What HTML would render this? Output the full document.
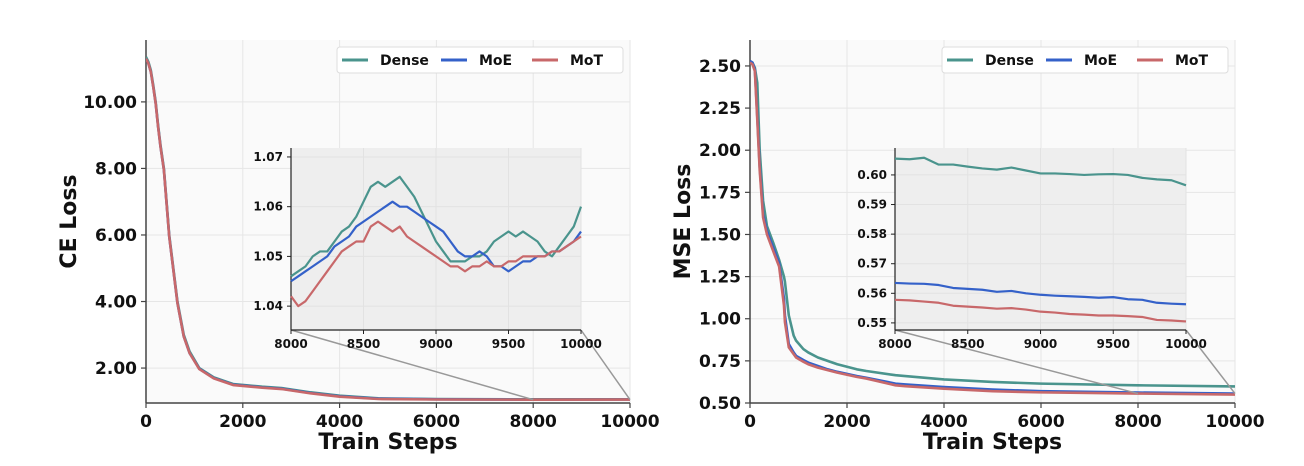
<!DOCTYPE html>
<html><head><meta charset="utf-8"><style>
body{margin:0;background:#fff}
svg{display:block}
text{font-family:"DejaVu Sans","Liberation Sans",sans-serif;font-weight:bold;fill:#111}
</style></head><body>
<svg id="c" width="1304" height="466" viewBox="0 0 1304 466"></svg>
<script>
const mainSteps=[0,50,100,150,200,250,300,370,480,650,780,900,1100,1400,1800,2400,2800,3400,4000,4800,6000,8000,10000];
const ceDense=[11.35,11.2,10.95,10.5,10.0,9.3,8.7,8.0,6.0,4.0,3.0,2.5,2.0,1.72,1.52,1.44,1.40,1.27,1.17,1.09,1.07,1.06,1.06];
const ceMoE=[11.3,11.15,10.9,10.45,9.95,9.25,8.65,7.95,5.95,3.95,2.95,2.45,1.98,1.70,1.50,1.42,1.38,1.25,1.15,1.08,1.06,1.05,1.055];
const ceMoT=[11.3,11.15,10.9,10.45,9.95,9.25,8.65,7.95,5.95,3.95,2.95,2.45,1.97,1.69,1.49,1.41,1.37,1.24,1.14,1.07,1.055,1.05,1.054];
const mseSteps=[0,50,100,150,200,270,350,480,600,700,720,800,900,950,1100,1200,1400,1600,1800,2200,2400,3000,3200,4000,5000,6000,8000,10000];
const mseDense=[2.52,2.52,2.49,2.40,2.00,1.70,1.55,1.45,1.35,1.25,1.22,1.02,0.90,0.87,0.82,0.80,0.77,0.75,0.73,0.70,0.69,0.665,0.66,0.64,0.625,0.615,0.605,0.598];
const mseMoE=[2.53,2.52,2.48,2.20,1.90,1.62,1.52,1.42,1.33,1.12,1.02,0.85,0.80,0.78,0.755,0.74,0.72,0.70,0.685,0.66,0.65,0.615,0.61,0.595,0.58,0.57,0.562,0.556];
const mseMoT=[2.52,2.51,2.47,2.18,1.88,1.60,1.50,1.40,1.31,1.08,0.98,0.83,0.79,0.77,0.745,0.73,0.71,0.695,0.68,0.655,0.645,0.605,0.60,0.585,0.57,0.563,0.556,0.550];
const ceInsetDense=[1.046,1.047,1.048,1.050,1.051,1.051,1.053,1.055,1.056,1.058,1.061,1.064,1.065,1.064,1.065,1.066,1.064,1.062,1.059,1.056,1.053,1.051,1.049,1.049,1.049,1.050,1.050,1.051,1.053,1.054,1.055,1.054,1.055,1.054,1.053,1.051,1.050,1.052,1.054,1.056,1.060];
const ceInsetMoE=[1.045,1.046,1.047,1.048,1.049,1.050,1.052,1.053,1.054,1.056,1.057,1.058,1.059,1.060,1.061,1.060,1.060,1.059,1.058,1.057,1.056,1.055,1.053,1.051,1.050,1.050,1.051,1.050,1.048,1.048,1.047,1.048,1.049,1.049,1.050,1.050,1.051,1.051,1.052,1.053,1.055];
const ceInsetMoT=[1.042,1.040,1.041,1.043,1.045,1.047,1.049,1.051,1.052,1.053,1.053,1.056,1.057,1.056,1.055,1.056,1.054,1.053,1.052,1.051,1.050,1.049,1.048,1.048,1.047,1.048,1.048,1.049,1.048,1.048,1.049,1.049,1.050,1.050,1.050,1.050,1.051,1.051,1.052,1.053,1.054];
const mseInsetDense=[.6055,.6053,.6058,.6035,.6035,.6028,.6022,.6018,.6025,.6015,.6005,.6005,.6003,.6000,.6002,.6003,.6000,.5990,.5985,.5982,.5965];
const mseInsetMoE=[.5635,.5633,.5632,.5628,.5618,.5615,.5612,.5605,.5608,.5600,.5595,.5592,.5590,.5588,.5585,.5587,.5580,.5578,.5568,.5565,.5563];
const mseInsetMoT=[.5578,.5576,.5572,.5568,.5558,.5555,.5552,.5548,.5550,.5545,.5538,.5535,.5530,.5528,.5525,.5525,.5523,.5520,.5510,.5508,.5505];
const xTicks=[0,2000,4000,6000,8000,10000];
const insetXTicks=[8000,8500,9000,9500,10000];
const ceYTicks=[2,4,6,8,10];
const mseYTicks=[0.5,0.75,1.0,1.25,1.5,1.75,2.0,2.25,2.5];
const ceInsetYTicks=[1.04,1.05,1.06,1.07];
const mseInsetYTicks=[0.55,0.56,0.57,0.58,0.59,0.60];
const colors={Dense:"#4a948d",MoE:"#3461c9",MoT:"#c8686a"};
const NS="http://www.w3.org/2000/svg";
const svg=document.getElementById('c');
function el(tag,attrs,parent){const e=document.createElementNS(NS,tag);for(const k in attrs)e.setAttribute(k,attrs[k]);(parent||svg).appendChild(e);return e;}
function scale(d0,d1,r0,r1){return v=>r0+(v-d0)/(d1-d0)*(r1-r0);}
function drawPanel(o){
  const g=el('g',{});
  
  
  const X=scale(0,10000,o.x0,o.x1),Y=scale(o.yMin,o.yMax,o.yB,o.yT);
  const bg=el('rect',{x:o.x0,y:o.yT,width:o.x1-o.x0,height:o.yB-o.yT,fill:'#fafafa'},g);
  
  xTicks.forEach(t=>{el('line',{x1:X(t),x2:X(t),y1:o.yT,y2:o.yB,stroke:'#e6e6e6','stroke-width':1},g);
    el('line',{x1:X(t),x2:X(t),y1:o.yB,y2:o.yB+5,stroke:'#444','stroke-width':1.2},g);
    const tx=el('text',{x:X(t),y:o.yB+24,'text-anchor':'middle','font-size':17},g);tx.textContent=t;
    });
  o.yTicks.forEach(t=>{el('line',{x1:o.x0,x2:o.x1,y1:Y(t),y2:Y(t),stroke:'#e6e6e6','stroke-width':1},g);
    el('line',{x1:o.x0-5,x2:o.x0,y1:Y(t),y2:Y(t),stroke:'#444','stroke-width':1.2},g);
    const tx=el('text',{x:o.x0-9,y:Y(t)+6,'text-anchor':'end','font-size':17},g);tx.textContent=t.toFixed(2);
    });
  el('line',{x1:o.x0,x2:o.x0,y1:o.yT,y2:o.yB,stroke:'#444','stroke-width':1.5},g);
  el('line',{x1:o.x0,x2:o.x1,y1:o.yB,y2:o.yB,stroke:'#444','stroke-width':1.5},g);
  const xl=el('text',{x:(o.x0+o.x1)/2,y:o.yB+46,'text-anchor':'middle','font-size':22},g);xl.textContent='Train Steps';
  
  const yl=el('text',{x:0,y:0,'text-anchor':'middle','font-size':22,transform:`translate(${o.x0-o.yLabOff},${(o.yT+o.yB)/2}) rotate(-90)`},g);yl.textContent=o.yLabel;
  
  const clipId='clip'+o.name;const cp=el('clipPath',{id:clipId},g);el('rect',{x:o.x0,y:o.yT,width:o.x1-o.x0,height:o.yB-o.yT},cp);
  ['Dense','MoE','MoT'].forEach(s=>{const vals=o.series[s];
    const p=el('polyline',{points:o.steps.map((st,i)=>X(st)+','+Y(vals[i])).join(' '),fill:'none',stroke:colors[s],'stroke-width':2.6,'stroke-linejoin':'round','clip-path':`url(#${clipId})`},g);
    });
  const ix0=o.ix0,ix1=o.ix1,iT=148,iB=330;
  const IX=scale(8000,10000,ix0,ix1),IY=scale(o.iyMin,o.iyMax,iB,iT);
  el('line',{x1:ix0,y1:iB,x2:X(8000),y2:Y(o.connY),stroke:'#999','stroke-width':1.5},g);
  el('line',{x1:ix1,y1:iB,x2:X(10000),y2:Y(o.connY),stroke:'#999','stroke-width':1.5},g);
  const ig=el('g',{},g);
  el('rect',{x:ix0,y:iT,width:ix1-ix0,height:iB-iT,fill:'#eeeeee'},ig);
  insetXTicks.forEach(t=>{el('line',{x1:IX(t),x2:IX(t),y1:iT,y2:iB,stroke:'#e2e2e2'},ig);
    el('line',{x1:IX(t),x2:IX(t),y1:iB,y2:iB+4,stroke:'#222'},ig);
    const tx=el('text',{x:IX(t),y:iB+18,'text-anchor':'middle','font-size':12},ig);tx.textContent=t;
    });
  o.iyTicks.forEach(t=>{el('line',{x1:ix0,x2:ix1,y1:IY(t),y2:IY(t),stroke:'#e2e2e2'},ig);
    el('line',{x1:ix0-4,x2:ix0,y1:IY(t),y2:IY(t),stroke:'#222'},ig);
    const tx=el('text',{x:ix0-8,y:IY(t)+4,'text-anchor':'end','font-size':12},ig);tx.textContent=t.toFixed(2);
    });
  el('line',{x1:ix0,x2:ix0,y1:iT,y2:iB,stroke:'#222','stroke-width':1.2},ig);
  el('line',{x1:ix0,x2:ix1,y1:iB,y2:iB,stroke:'#222','stroke-width':1.2},ig);
  ['Dense','MoE','MoT'].forEach(s=>{const vals=o.iseries[s];const step=2000/(vals.length-1);
    const p=el('polyline',{points:vals.map((v,i)=>IX(8000+i*step)+','+IY(v)).join(' '),fill:'none',stroke:colors[s],'stroke-width':2.2,'stroke-linejoin':'round'},ig);
    });
  const lg=el('g',{},g);
  el('rect',{x:o.lx,y:47,width:286,height:26,rx:3,fill:'#fff',stroke:'#ddd'},lg);
  const offs=[{s:'Dense',dx:5},{s:'MoE',dx:104},{s:'MoT',dx:195}];
  offs.forEach(e=>{el('line',{x1:o.lx+e.dx,x2:o.lx+e.dx+26,y1:60,y2:60,stroke:colors[e.s],'stroke-width':3},lg);
    const t=el('text',{x:o.lx+e.dx+38,y:65,'font-size':14},lg);t.textContent=e.s;
    });
}
drawPanel({name:'ce-loss-panel',x0:146,x1:630,yT:40,yB:403,yMin:0.95,yMax:11.86,yTicks:ceYTicks,yLabel:'CE Loss',yLabOff:70,steps:mainSteps,
  series:{Dense:ceDense,MoE:ceMoE,MoT:ceMoT},ix0:291,ix1:581,iyMin:1.0352,iyMax:1.0718,iyTicks:ceInsetYTicks,
  iseries:{Dense:ceInsetDense,MoE:ceInsetMoE,MoT:ceInsetMoT},connY:1.05,lx:337});
drawPanel({name:'mse-loss-panel',x0:750,x1:1235,yT:40,yB:403,yMin:0.5,yMax:2.654,yTicks:mseYTicks,yLabel:'MSE Loss',yLabOff:60,steps:mseSteps,
  series:{Dense:mseDense,MoE:mseMoE,MoT:mseMoT},ix0:895,ix1:1186,iyMin:0.5476,iyMax:0.6091,iyTicks:mseInsetYTicks,
  iseries:{Dense:mseInsetDense,MoE:mseInsetMoE,MoT:mseInsetMoT},connY:0.556,lx:942});
</script>
</body></html>
